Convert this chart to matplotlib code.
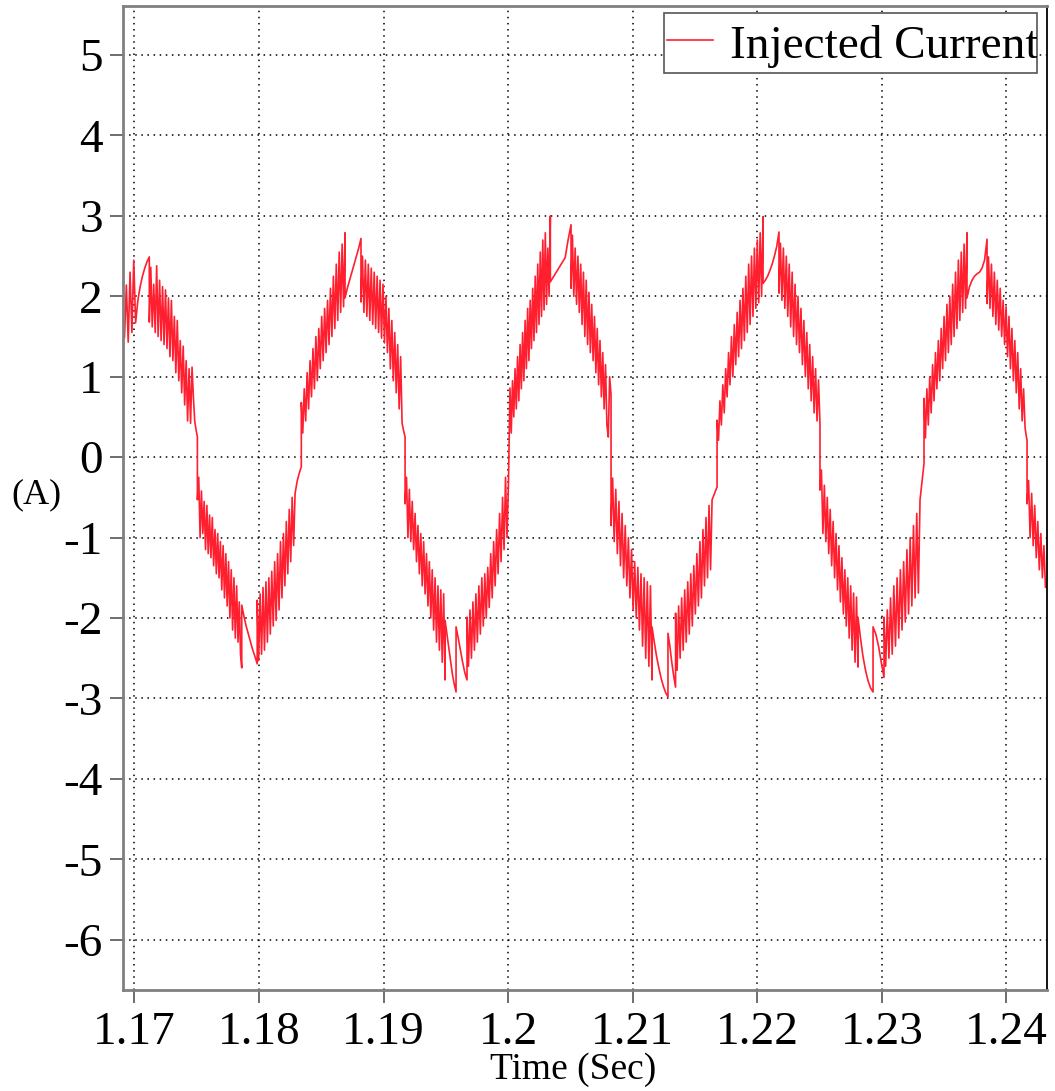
import numpy as np
import matplotlib
matplotlib.use("Agg")
import matplotlib.pyplot as plt
from matplotlib.patches import Rectangle

plt.rcParams['font.family'] = ['Liberation Serif', 'DejaVu Serif']
plt.rcParams['axes.unicode_minus'] = False

# segment boundaries (s) of the traced waveform
edges = [1.16921, 1.17010, 1.17120, 1.17463, 1.17506, 1.17832, 1.17862, 1.17986,
         1.18290, 1.18340, 1.18691, 1.18819, 1.19149, 1.19173, 1.19494, 1.19582,
         1.19670, 1.19991, 1.20015, 1.20339, 1.20505, 1.20826, 1.21155, 1.21283,
         1.21344, 1.21637, 1.21677, 1.22046, 1.22174, 1.22503, 1.22808, 1.22929,
         1.23017, 1.23306, 1.23338, 1.23683, 1.23844, 1.24149, 1.24165, 1.24325]

# current samples (A) inside each segment
segments = [
    [1.49, 2.14, 1.43, 2.3, 1.55, 2.45, 1.67],
    [1.67, 1.95, 2.12, 2.25, 2.35, 2.43, 2.49],
    [1.68, 2.36, 1.62, 2.15, 1.55, 2.38, 1.5, 2.2, 1.45, 2.12, 1.4, 2.08, 1.35, 1.98, 1.25,
     1.95, 1.2, 1.75, 1.05, 1.7, 0.95, 1.45, 0.8, 1.38, 0.65, 1.2, 0.45, 1.1, 0.42, 1.12],
    [1.12, 0.75, 0.45, 0.34, 0.25],
    [-0.53, -0.25, -1.0, -0.42, -0.95, -0.55, -1.15, -0.6, -1.2, -0.72, -1.25, -0.75, -1.35,
     -0.9, -1.45, -0.95, -1.5, -1.05, -1.65, -1.1, -1.75, -1.2, -1.85, -1.3, -2.0, -1.4,
     -2.15, -1.5, -2.25, -1.6, -2.3],
    [-2.3, -1.8, -2.45, -2.62],
    [-1.84, -1.98, -2.1, -2.2, -2.3, -2.4, -2.48, -2.57],
    [-1.78, -2.53, -1.7, -2.45, -1.62, -2.4, -1.55, -2.3, -1.5, -2.2, -1.42, -2.1, -1.3, -2.03,
     -1.2, -1.9, -1.05, -1.75, -0.95, -1.6, -0.8, -1.45, -0.65, -1.3, -0.5, -1.1, -0.45],
    [-0.45, -0.3, -0.2, -0.12],
    [0.68, 0.3, 0.85, 0.45, 1.05, 0.6, 1.2, 0.75, 1.35, 0.85, 1.5, 0.95, 1.6, 1.1, 1.75, 1.2,
     1.85, 1.3, 1.95, 1.4, 2.1, 1.5, 2.25, 1.6, 2.4, 1.7, 2.55, 1.8, 2.65, 1.87, 2.79],
    [1.98, 2.1, 2.2, 2.3, 2.4, 2.5, 2.6, 2.72],
    [1.93, 2.5, 1.8, 2.45, 1.75, 2.4, 1.7, 2.35, 1.65, 2.3, 1.6, 2.25, 1.55, 2.2, 1.48, 2.15,
     1.42, 2.0, 1.3, 1.85, 1.1, 1.7, 0.95, 1.55, 0.8, 1.4, 0.6, 1.25, 0.42],
    [0.42, 0.33, 0.25],
    [-0.58, -0.25, -1.0, -0.4, -1.05, -0.55, -1.15, -0.7, -1.3, -0.85, -1.45, -0.95, -1.6,
     -1.05, -1.7, -1.2, -1.85, -1.3, -2.0, -1.4, -2.15, -1.5, -2.3, -1.6, -2.4, -1.65, -2.55,
     -1.7, -2.77],
    [-2.03, -2.2, -2.38, -2.55, -2.7, -2.82, -2.92],
    [-2.11, -2.25, -2.4, -2.55, -2.68, -2.77],
    [-1.99, -2.6, -1.9, -2.5, -1.8, -2.4, -1.7, -2.3, -1.6, -2.2, -1.5, -2.1, -1.45, -2.0,
     -1.37, -1.87, -1.2, -1.75, -1.05, -1.6, -0.9, -1.45, -0.7, -1.3, -0.5, -1.15, -0.25, -1.0],
    [-1.0, -0.3, 0.86],
    [0.86, 0.3, 0.95, 0.5, 1.1, 0.6, 1.25, 0.7, 1.4, 0.85, 1.55, 0.95, 1.7, 1.1, 1.85, 1.2,
     1.95, 1.35, 2.1, 1.45, 2.25, 1.55, 2.4, 1.65, 2.55, 1.75, 2.7, 1.83, 2.79, 1.9, 2.6, 2.0, 3.0],
    [2.18, 2.24, 2.3, 2.36, 2.42, 2.48, 2.7, 2.89],
    [2.1, 2.76, 2.0, 2.6, 1.9, 2.5, 1.8, 2.4, 1.65, 2.3, 1.5, 2.2, 1.4, 2.05, 1.3, 1.9, 1.2,
     1.75, 1.05, 1.6, 0.9, 1.45, 0.75, 1.3, 0.6, 1.15, 0.4, 0.25, 1.0, 0.78],
    [-0.85, -0.26, -1.05, -0.4, -1.2, -0.55, -1.35, -0.7, -1.5, -0.85, -1.6, -1.0, -1.75,
     -1.15, -1.9, -1.3, -2.0, -1.37, -2.15, -1.45, -2.35, -1.5, -2.5, -1.55, -2.6, -1.6, -2.77],
    [-2.11, -2.3, -2.48, -2.62, -2.75, -2.85, -2.93, -2.98],
    [-2.19, -2.35, -2.55, -2.72, -2.86],
    [-1.94, -2.65, -1.85, -2.5, -1.75, -2.4, -1.65, -2.3, -1.55, -2.2, -1.45, -2.1, -1.35,
     -1.95, -1.2, -1.85, -1.05, -1.75, -0.9, -1.6, -0.75, -1.5, -0.6, -1.4, -0.53],
    [-0.53, -0.45, -0.37],
    [0.46, 0.21, 0.7, 0.4, 0.9, 0.55, 1.1, 0.75, 1.3, 0.9, 1.5, 1.0, 1.65, 1.15, 1.8, 1.25,
     1.95, 1.35, 2.1, 1.45, 2.25, 1.55, 2.4, 1.65, 2.5, 1.75, 2.6, 1.85, 2.7, 1.92, 2.79, 2.0, 2.99],
    [2.16, 2.2, 2.25, 2.32, 2.4, 2.5, 2.62, 2.8],
    [2.04, 2.66, 1.95, 2.6, 1.85, 2.5, 1.75, 2.4, 1.62, 2.3, 1.5, 2.15, 1.4, 2.0, 1.3, 1.85,
     1.15, 1.7, 1.0, 1.55, 0.85, 1.4, 0.7, 1.25, 0.55, 1.1, 0.45, 0.96, 0.42],
    [-0.41, -0.16, -0.95, -0.35, -1.05, -0.5, -1.2, -0.65, -1.35, -0.8, -1.5, -0.95, -1.65,
     -1.1, -1.8, -1.25, -1.95, -1.4, -2.1, -1.5, -2.25, -1.6, -2.4, -1.69, -2.55, -1.74, -2.61],
    [-1.99, -2.25, -2.48, -2.65, -2.78, -2.87, -2.92],
    [-2.11, -2.2, -2.35, -2.55, -2.74],
    [-1.99, -2.6, -1.9, -2.5, -1.75, -2.45, -1.6, -2.35, -1.5, -2.25, -1.4, -2.15, -1.3,
     -2.05, -1.15, -1.95, -1.0, -1.85, -0.85, -1.75, -0.7, -1.69, -0.53],
    [-0.53, -0.3, -0.08],
    [0.73, 0.24, 0.85, 0.4, 1.0, 0.55, 1.15, 0.7, 1.3, 0.85, 1.45, 0.95, 1.6, 1.1, 1.75, 1.2,
     1.9, 1.3, 2.0, 1.4, 2.15, 1.5, 2.3, 1.6, 2.45, 1.7, 2.55, 1.8, 2.65, 1.85, 2.79],
    [1.98, 2.12, 2.2, 2.25, 2.28, 2.3, 2.35, 2.45, 2.71],
    [1.91, 2.49, 1.85, 2.4, 1.75, 2.3, 1.65, 2.2, 1.58, 2.1, 1.5, 1.95, 1.4, 1.87, 1.25, 1.75,
     1.1, 1.6, 0.95, 1.45, 0.8, 1.3, 0.6, 1.1, 0.45, 0.85, 0.37],
    [0.37, 0.28, 0.21],
    [-0.58, -0.29, -1.0, -0.45, -1.1, -0.6, -1.25, -0.8, -1.4, -0.95, -1.5, -1.1, -1.62, -1.6],
]

x_ticks = [1.17, 1.18, 1.19, 1.20, 1.21, 1.22, 1.23, 1.24]
x_labels = ["1.17", "1.18", "1.19", "1.2", "1.21", "1.22", "1.23", "1.24"]
y_ticks = [5, 4, 3, 2, 1, 0, -1, -2, -3, -4, -5, -6]
y_labels = ["5", "4", "3", "2", "1", "0", "-1", "-2", "-3", "-4", "-5", "-6"]

t_all, i_all = [], []
for k, vals in enumerate(segments):
    t_all.extend(np.linspace(edges[k], edges[k + 1], len(vals)))
    i_all.extend(vals)

fig = plt.figure(figsize=(10.55, 10.91), dpi=100)
ax = fig.add_axes([0.1166, 0.0930, 0.8758, 0.9015])

ax.plot(t_all, i_all, color="#ff1f2f", lw=1.2)

ax.set_xlim(1.16909, 1.24325)
ax.set_ylim(-6.62, 5.61)
ax.set_xticks(x_ticks)
ax.set_xticklabels(x_labels)
ax.set_yticks(y_ticks)
ax.set_yticklabels(y_labels)
ax.tick_params(direction="out", length=9.5, width=1.2, color="#555555",
               labelsize=34, labelcolor="black")
ax.tick_params(axis="x", pad=6)
ax.tick_params(axis="y", pad=5)
ax.grid(True, color="black", linestyle=(0, (1, 3)), linewidth=1.1)

for side in ["left", "bottom", "top"]:
    ax.spines[side].set_color("#808080")
    ax.spines[side].set_linewidth(2)
ax.spines["right"].set_color("black")
ax.spines["right"].set_linewidth(1.3)

# legend box, text clipped by the frame like the original
box = Rectangle((0.5855, 0.9322), 0.4035, 0.061, transform=ax.transAxes,
                facecolor="white", edgecolor="#555555", lw=1.2, zorder=5)
ax.add_patch(box)
ax.plot([0.5887, 0.6385], [0.9654, 0.9654], transform=ax.transAxes,
        color="#ff1f2f", lw=1.2, zorder=6)
txt = ax.text(0.657, 0.947, "Injected Current", transform=ax.transAxes,
              fontsize=34, va="baseline", ha="left", zorder=6, clip_on=True)
txt.set_clip_path(box)

fig.text(0.035, 1 - 495 / 1091, "(A)", fontsize=26, ha="center", va="center")
fig.text(573 / 1055, 1 - 1070 / 1091, "Time (Sec)", fontsize=27, ha="center", va="center")

fig.savefig("out.png", dpi=100)
